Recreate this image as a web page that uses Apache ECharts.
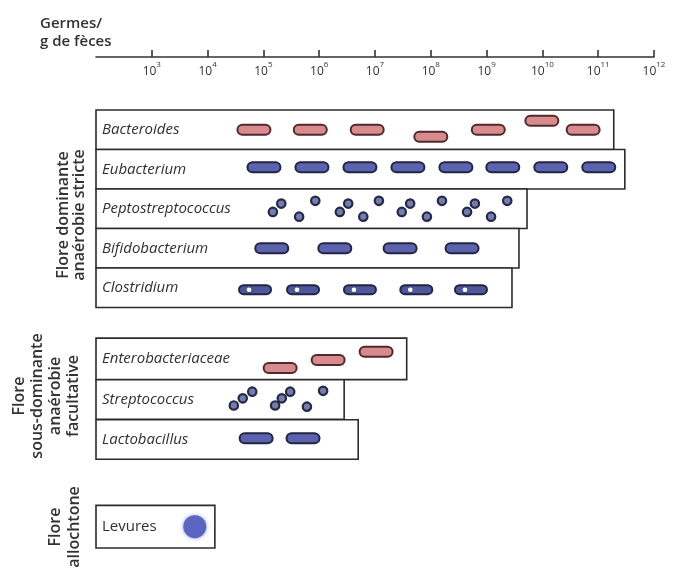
<!DOCTYPE html>
<html><head><meta charset="utf-8">
<script src="https://cdn.jsdelivr.net/npm/echarts@6/dist/echarts.min.js"></script>
<style>html,body{margin:0;padding:0;background:#fff}#c{width:673px;height:568px}</style>
</head><body><div id="c"></div>
<script>
// ---- data ----
const taxa = ['Bacteroides','Eubacterium','Peptostreptococcus','Bifidobacterium','Clostridium','Enterobacteriaceae','Streptococcus','Lactobacillus','Levures'];
const maxCounts = [1.9e11, 3.0e11, 5.3e9, 3.8e9, 2.85e9, 3.7e7, 2.8e6, 5.0e6, 1.35e4];
const rowPos = [0.5, 1.5, 2.5, 3.5, 4.5, 6.3, 7.33, 8.34, 10.55];
const rowSpan = [1, 1, 1, 1, 1, 1.05, 1, 1, 1.08];
const italicName = [true, true, true, true, true, true, true, true, false];
const tickExponents = [3, 4, 5, 6, 7, 8, 9, 10, 11, 12];
const groupLabels = ['Flore dominante\nanaérobie stricte', 'Flore\nsous-dominante\nanaérobie\nfacultative', 'Flore\nallochtone'];
const axisTitle = 'Germes/\ng de fèces';

// icons: [log10 count, offset within row]
const bacteroidesRods = [[4.83,0],[5.84,0],[6.86,0],[8.0,0.18],[9.03,0],[9.99,-0.23],[10.73,0]];
const eubacteriumRods = [[5.01,-0.05],[5.87,-0.05],[6.73,-0.05],[7.59,-0.05],[8.45,-0.05],[9.29,-0.05],[10.15,-0.05],[11.01,-0.05]];
const peptoCocci = [[5.17,0.08],[5.32,-0.13],[5.64,0.2],[5.93,-0.2],
                    [6.37,0.08],[6.52,-0.13],[6.79,0.2],[7.07,-0.2],
                    [7.48,0.08],[7.63,-0.13],[7.93,0.2],[8.2,-0.2],
                    [8.65,0.08],[8.79,-0.13],[9.08,0.2],[9.37,-0.2]];
const bifidoRods = [[5.15,0],[6.28,0],[7.45,0],[8.56,0]];
const clostridiumRods = [[4.85,0.05],[5.71,0.05],[6.73,0.05],[7.74,0.05],[8.72,0.05]];
const enteroRods = [[5.3,0.23],[6.16,0.03],[7.02,-0.18]];
const streptoCocci = [[4.47,0.15],[4.63,-0.03],[4.8,-0.2],[5.21,0.15],[5.33,-0.03],[5.48,-0.2],[5.78,0.18],[6.07,-0.22]];
const lactoRods = [[4.87,-0.03],[5.71,-0.03]];
const levuresCells = [[3.77,0]];

// ---- build ----
const boxData = taxa.map((t, i) => [maxCounts[i], rowPos[i], rowSpan[i], i]);
const iconData = [];
function addIcons(list, row, kind) {
  list.forEach(([e, dy]) => iconData.push([Math.pow(10, e), rowPos[row] + dy, kind]));
}
addIcons(bacteroidesRods, 0, 0);
addIcons(eubacteriumRods, 1, 1);
addIcons(peptoCocci, 2, 3);
addIcons(bifidoRods, 3, 1);
addIcons(clostridiumRods, 4, 2);
addIcons(enteroRods, 5, 0);
addIcons(streptoCocci, 6, 3);
addIcons(lactoRods, 7, 1);
addIcons(levuresCells, 8, 4);

const FONT = '"Open Sans", "DejaVu Sans", sans-serif';
const INK = '#333';

function renderBox(params, api) {
  const v = api.value(0), y = api.value(1), h = api.value(2), idx = api.value(3);
  const a = api.coord([100, y - h / 2]);
  const b = api.coord([v, y + h / 2]);
  const top = Math.min(a[1], b[1]), hh = Math.abs(b[1] - a[1]);
  return {
    type: 'group',
    children: [
      { type: 'rect', shape: { x: a[0], y: top, width: b[0] - a[0], height: hh },
        style: { fill: '#fff', stroke: '#2b2b2b', lineWidth: 1.6 } },
      { type: 'text', style: { text: taxa[idx], x: a[0] + 6, y: top + hh / 2,
        align: 'left', verticalAlign: 'middle', fill: '#303030',
        fontFamily: FONT, fontSize: 15, fontStyle: italicName[idx] ? 'italic' : 'normal' } }
    ]
  };
}

function renderIcon(params, api) {
  const p = api.coord([api.value(0), api.value(1)]);
  const kind = api.value(2);
  if (kind === 0 || kind === 1 || kind === 2) {
    const fill = kind === 0 ? '#d98a8d' : (kind === 1 ? '#5b63ad' : '#4f5699');
    const stroke = kind === 0 ? '#4e2a2e' : '#222544';
    const w = kind === 2 ? 32 : 33, h = kind === 2 ? 9 : 10;
    const children = [
      { type: 'rect', shape: { x: p[0] - w / 2, y: p[1] - h / 2, width: w, height: h, r: h / 2 },
        style: { fill: fill, stroke: stroke, lineWidth: 2 } }
    ];
    if (kind === 2) {
      children.push({ type: 'circle', shape: { cx: p[0] - 6, cy: p[1], r: 2.3 }, style: { fill: '#fff' } });
    }
    return { type: 'group', children: children };
  }
  if (kind === 3) {
    return { type: 'circle', shape: { cx: p[0], cy: p[1], r: 4.2 },
      style: { fill: '#767cb0', stroke: '#262944', lineWidth: 2.2 } };
  }
  return { type: 'circle', shape: { cx: p[0], cy: p[1], r: 11.5 },
    style: { fill: '#5a65c0', shadowBlur: 4, shadowColor: 'rgba(90,100,190,0.6)' } };
}

const chart = echarts.init(document.getElementById('c'), null, { renderer: 'canvas' });
chart.setOption({
  backgroundColor: '#fff',
  animation: false,
  grid: [
    { left: 96, right: 19, top: 20, height: 37 },
    { left: 96, right: 19, top: 110, height: 434.5 }
  ],
  xAxis: [
    { gridIndex: 0, type: 'log', logBase: 10, min: 100, max: 1e12, position: 'bottom',
      axisLine: { show: true, lineStyle: { color: INK, width: 1.6 } },
      axisTick: { show: true, inside: true, length: 7, lineStyle: { color: INK, width: 1.6 },
        customValues: tickExponents.map(e => Math.pow(10, e)) },
      axisLabel: { show: true, margin: 4,
        customValues: tickExponents.map(e => Math.pow(10, e)),
        formatter: v => '{b|10}{s|' + Math.round(Math.log10(v)) + '}',
        rich: {
          b: { fontFamily: FONT, fontSize: 12, color: INK, lineHeight: 17, verticalAlign: 'bottom' },
          s: { fontFamily: FONT, fontSize: 8, color: INK, lineHeight: 17, verticalAlign: 'top' }
        } },
      splitLine: { show: false } },
    { gridIndex: 1, type: 'log', logBase: 10, min: 100, max: 1e12, show: false }
  ],
  yAxis: [
    { gridIndex: 0, type: 'value', show: false },
    { gridIndex: 1, type: 'value', min: 0, max: 11, inverse: true, show: false }
  ],
  series: [
    { type: 'custom', xAxisIndex: 1, yAxisIndex: 1, data: boxData, renderItem: renderBox, clip: false, z: 2 },
    { type: 'custom', xAxisIndex: 1, yAxisIndex: 1, data: iconData, renderItem: renderIcon, clip: false, z: 3 }
  ],
  graphic: [
    { type: 'text', left: 40, top: 15, style: { text: axisTitle, fontFamily: FONT, fontWeight: 600, fontSize: 15, lineHeight: 18, fill: INK } },
    { type: 'text', x: 71, y: 215, rotation: Math.PI / 2,
      style: { text: groupLabels[0], align: 'center', verticalAlign: 'middle', fontFamily: FONT, fontWeight: 600, fontSize: 16, lineHeight: 16, fill: INK } },
    { type: 'text', x: 46, y: 396, rotation: Math.PI / 2,
      style: { text: groupLabels[1], align: 'center', verticalAlign: 'middle', fontFamily: FONT, fontWeight: 600, fontSize: 16, lineHeight: 18, fill: INK } },
    { type: 'text', x: 65, y: 527, rotation: Math.PI / 2,
      style: { text: groupLabels[2], align: 'center', verticalAlign: 'middle', fontFamily: FONT, fontWeight: 600, fontSize: 16, lineHeight: 19, fill: INK } }
  ]
});
</script></body></html>
